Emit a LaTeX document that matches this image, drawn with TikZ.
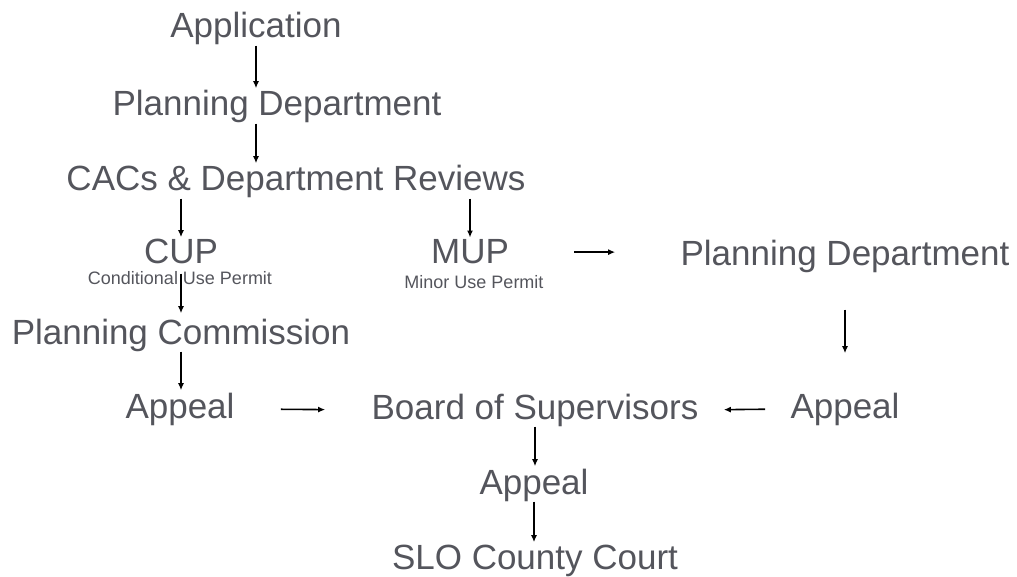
\documentclass[tikz,border=0pt]{standalone}
\usepackage{fontspec}
\setmainfont{Liberation Sans}
\usetikzlibrary{arrows.meta}
\definecolor{labelgray}{RGB}{84,85,92}

\begin{document}
\begin{tikzpicture}[x=1pt,y=-1pt,thick]
	% `stage' is used for the big step labels.
	% `note' is used for the small permit names under CUP and MUP.
	\tikzstyle{stage} = [anchor=base,inner sep=0pt,text=labelgray,font=\fontsize{35}{40}\selectfont]
	\tikzstyle{note} = [anchor=base,inner sep=0pt,text=labelgray,font=\fontsize{18}{20}\selectfont]
	\tikzstyle{flow} = [draw,-{Latex[length=7pt,width=6pt]},line width=1.6pt,shorten >=2pt]
	\useasboundingbox (0,0) rectangle (1017,577);
	%
	% Top column.
	\node[stage] (app) at (256,38) {Application};
	\node[stage] (plan1) at (277,116) {Planning Department};
	\node[stage] (cacs) at (296,191) {CACs \& Department Reviews};
	% CUP branch.
	\node[stage] (cup) at (181,264) {CUP};
	\node[note] (cupsub) at (180,284) {Conditional Use Permit};
	\node[stage] (comm) at (181,344) {Planning Commission};
	\node[stage] (appeal1) at (180,418) {Appeal};
	% MUP branch.
	\node[stage] (mup) at (470,264) {MUP};
	\node[note] (mupsub) at (474,288) {Minor Use Permit};
	\node[stage] (plan2) at (845,266) {Planning Department};
	\node[stage] (appeal2) at (845,418) {Appeal};
	% Bottom column.
	\node[stage] (board) at (535,419) {Board of Supervisors};
	\node[stage] (appeal3) at (534,494) {Appeal};
	\node[stage] (court) at (535,569) {SLO County Court};
	%
	% Draw arrows.
	\draw[flow] (app.south) -- (app.south |- plan1.north);
	\draw[flow] (app |- plan1.south) -- (app |- cacs.north);
	\draw[flow] (cup |- cacs.south) -- (cup.north);
	\draw[flow] (mup |- cacs.south) -- (mup.north);
	\draw[flow,shorten <=9pt,shorten >=5pt] (cup.south) -- (cup |- comm.north);
	\draw[flow] (cup |- comm.south) -- (cup |- appeal1.north);
	\draw[flow,shorten <=46pt,shorten >=46pt] (appeal1.east) -- (board.west);
	\draw[flow,shorten <=65pt,shorten >=65pt] (mup.east) -- (mup.east -| plan2.west);
	\draw[flow,shorten <=36pt,shorten >=39pt] (plan2.south) -- (plan2.south |- appeal2.north);
	\draw[flow,shorten <=25pt,shorten >=25pt] (appeal2.west) -- (board.east);
	\draw[flow] (board.south) -- (board.south |- appeal3.north);
	\draw[flow] (appeal3.south) -- (appeal3.south |- court.north);
%
\end{tikzpicture}
\end{document}
